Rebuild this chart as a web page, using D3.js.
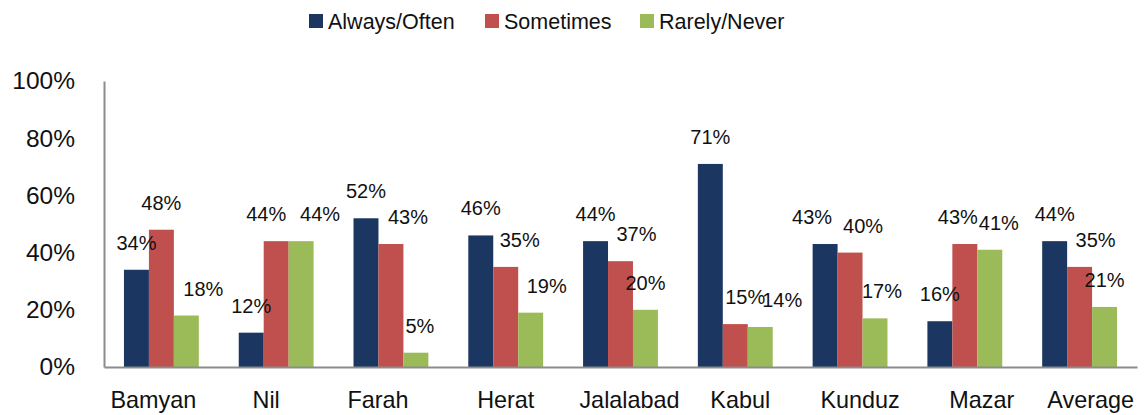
<!DOCTYPE html>
<html>
<head>
<meta charset="utf-8">
<script src="https://cdn.jsdelivr.net/npm/d3@7"></script>
<style>
  body { margin: 0; background: #fff; }
  text { font-family: "Liberation Sans", Arial, sans-serif; fill: #111; }
</style>
</head>
<body>
<svg id="chart" width="1147" height="415"></svg>
<script>
// data
var cities = ["Bamyan", "Nil", "Farah", "Herat", "Jalalabad", "Kabul", "Kunduz", "Mazar", "Average"];
var seriesNames = ["Always/Often", "Sometimes", "Rarely/Never"];
var alwaysOften = [0.34, 0.12, 0.52, 0.46, 0.44, 0.71, 0.43, 0.16, 0.44];
var sometimes   = [0.48, 0.44, 0.43, 0.35, 0.37, 0.15, 0.40, 0.43, 0.35];
var rarelyNever = [0.18, 0.44, 0.05, 0.19, 0.20, 0.14, 0.17, 0.41, 0.21];
var yTicks = [0, 0.2, 0.4, 0.6, 0.8, 1.0];

var colors = ["#1b3660", "#c0504d", "#9bbb59"];

// small sideways nudges of the value labels, as they sit in the original
var labelNudge = [
  [0, 0, 0, 0, 0, 0, -13, 0, 0],
  [0, -10, 17, 14, 16, 10, 13, -7, 16],
  [17, 19, 4, 16, 0, 22, 7, 9, 0]
];
var catNudge = [-8, -10, -13, 0, 9, 5, 10, 17, 11];

var svg = d3.select("#chart");

var plotLeft = 104, plotRight = 1137, plotTop = 81, plotBottom = 367;

var x0 = d3.scaleBand().domain(cities).range([plotLeft, plotRight]).padding(0);
var x1 = d3.scaleBand().domain(seriesNames).range([0, x0.bandwidth()]).paddingOuter(0.8).paddingInner(0);
var y = d3.scaleLinear().domain([0, 1]).range([plotBottom, plotTop]);

var seriesValues = [alwaysOften, sometimes, rarelyNever];

// bars
seriesValues.forEach(function (vals, s) {
  svg.append("g").selectAll("rect")
    .data(vals)
    .enter()
    .append("rect")
    .attr("x", function (d, i) { return x0(cities[i]) + x1(seriesNames[s]); })
    .attr("y", function (d) { return y(d); })
    .attr("width", x1.bandwidth())
    .attr("height", function (d) { return plotBottom - y(d); })
    .attr("fill", colors[s]);
});

// value labels
seriesValues.forEach(function (vals, s) {
  svg.append("g").selectAll("text")
    .data(vals)
    .enter()
    .append("text")
    .attr("x", function (d, i) { return x0(cities[i]) + x1(seriesNames[s]) + x1.bandwidth() / 2 + labelNudge[s][i]; })
    .attr("y", function (d) { return y(d) - 20; })
    .attr("text-anchor", "middle")
    .style("font-size", "20px")
    .text(function (d) { return Math.round(d * 100) + "%"; });
});

// y axis
var yAxis = d3.axisLeft(y).tickValues(yTicks).tickSize(0).tickPadding(29)
  .tickFormat(d3.format(".0%"));
var gy = svg.append("g").attr("transform", "translate(" + plotLeft + ",0)").call(yAxis);
gy.select(".domain").attr("stroke", "#8c8c8c").attr("stroke-width", 2);
gy.selectAll("text").style("font-size", "24.5px").attr("fill", "#111")
  .attr("font-family", "Liberation Sans, Arial, sans-serif");

// x axis
var xAxis = d3.axisBottom(x0).tickSize(0).tickPadding(24);
var gx = svg.append("g").attr("transform", "translate(0," + plotBottom + ")").call(xAxis);
gx.select(".domain").attr("stroke", "#8c8c8c").attr("stroke-width", 2);
gx.selectAll("text").style("font-size", "23.4px").attr("fill", "#111")
  .attr("font-family", "Liberation Sans, Arial, sans-serif")
  .attr("dx", function (d, i) { return catNudge[i]; });

// legend
var legendX = [309, 485, 640];
var legend = svg.append("g").selectAll("g")
  .data(seriesNames)
  .enter()
  .append("g")
  .attr("transform", function (d, i) { return "translate(" + legendX[i] + ",14)"; });
legend.append("rect")
  .attr("width", 14).attr("height", 14)
  .attr("fill", function (d, i) { return colors[i]; });
legend.append("text")
  .attr("x", 19).attr("y", 15)
  .style("font-size", "21.5px")
  .text(function (d) { return d; });
</script>
</body>
</html>
